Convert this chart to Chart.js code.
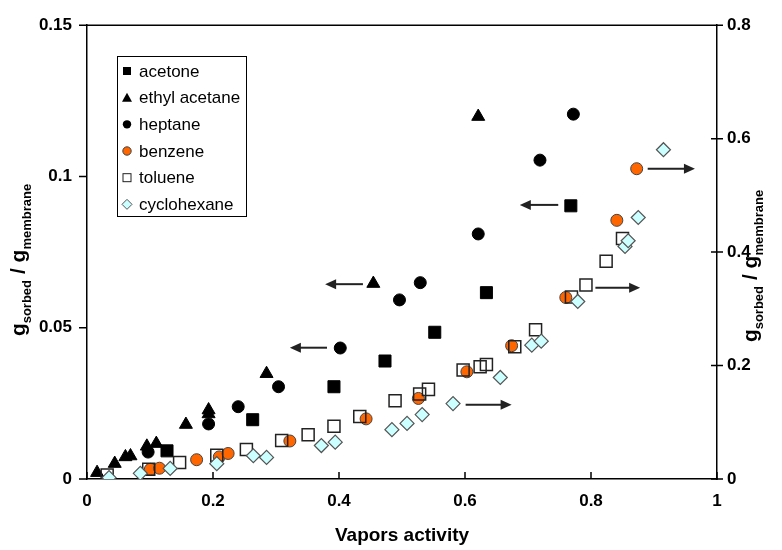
<!DOCTYPE html>
<html>
<head>
<meta charset="utf-8">
<script src="https://cdn.jsdelivr.net/npm/chart.js@4.4.0/dist/chart.umd.min.js"></script>
<style>
  html, body { margin: 0; padding: 0; background: #fff; }
  #wrap { width: 782px; height: 550px; }
</style>
</head>
<body>
<div id="wrap"><canvas id="sorption" width="782" height="550"></canvas></div>
<script>
// sorption data: x = vapors activity, y = g sorbed / g membrane
// acetone, ethyl acetate, heptane -> left axis; benzene, toluene, cyclohexane -> right axis
const acetoneX = [0.127, 0.263, 0.392, 0.473, 0.552, 0.634, 0.768];
const acetoneY = [0.0093, 0.0196, 0.0305, 0.039, 0.0485, 0.0616, 0.0903];

const ethylX = [0.016, 0.044, 0.061, 0.069, 0.095, 0.110, 0.157, 0.193, 0.193, 0.285, 0.4545, 0.621];
const ethylY = [0.0021, 0.0051, 0.0073, 0.0076, 0.0108, 0.0117, 0.018, 0.0215, 0.0228, 0.0348, 0.0646, 0.1198];

const heptaneX = [0.097, 0.193, 0.240, 0.304, 0.402, 0.496, 0.529, 0.621, 0.719, 0.772];
const heptaneY = [0.0089, 0.0182, 0.0239, 0.0305, 0.0433, 0.0592, 0.0649, 0.081, 0.1054, 0.1206];

const benzeneX = [0.1005, 0.115, 0.174, 0.210, 0.224, 0.322, 0.443, 0.526, 0.603, 0.674, 0.760, 0.841, 0.8725];
const benzeneY = [0.017, 0.019, 0.034, 0.039, 0.045, 0.067, 0.106, 0.142, 0.189, 0.235, 0.320, 0.456, 0.547];

const tolueneX = [0.032, 0.098, 0.147, 0.206, 0.253, 0.309, 0.351, 0.392, 0.433, 0.489, 0.528, 0.542,
                  0.597, 0.624, 0.634, 0.679, 0.712, 0.769, 0.792, 0.824, 0.850];
const tolueneY = [0.007, 0.017, 0.029, 0.042, 0.052, 0.068, 0.078, 0.093, 0.110, 0.138, 0.150, 0.158,
                  0.192, 0.198, 0.202, 0.233, 0.263, 0.321, 0.342, 0.384, 0.424];

const cycloX = [0.035, 0.0846, 0.132, 0.206, 0.264, 0.285, 0.372, 0.394, 0.484, 0.508, 0.532, 0.581,
                0.656, 0.706, 0.721, 0.779, 0.854, 0.859, 0.875, 0.915];
const cycloY = [0.0023, 0.010, 0.0187, 0.027, 0.041, 0.038, 0.059, 0.065, 0.087, 0.098, 0.1135, 0.133,
                0.179, 0.236, 0.243, 0.313, 0.410, 0.420, 0.461, 0.5805];

const seriesNames = ['acetone', 'ethyl acetane', 'heptane', 'benzene', 'toluene', 'cyclohexane'];

const xTicks = [0, 0.2, 0.4, 0.6, 0.8, 1];
const leftTicks = [0, 0.05, 0.1, 0.15];
const rightTicks = [0, 0.2, 0.4, 0.6, 0.8];

// arrows pointing at the axis each group belongs to
const arrowFrom = [0.381, 0.438, 0.748, 0.601, 0.807, 0.890];
const arrowTo   = [0.322, 0.378, 0.687, 0.674, 0.878, 0.965];
const arrowY    = [0.0434, 0.0644, 0.0906, 0.131, 0.337, 0.547];
const arrowAxis = ['y', 'y', 'y', 'y2', 'y2', 'y2'];

const FONT = '"Liberation Sans", Arial, sans-serif';

function pts(xs, ys) {
  return xs.map((x, i) => ({ x: x, y: ys[i] }));
}

function fixTicks(list) {
  return function(scale) { scale.ticks = list.map(v => ({ value: v })); };
}

const fmt = v => String(+Number(v).toFixed(2));

// axis box, tick marks, arrows, legend and the y titles with subscripts
const extras = {
  id: 'extras',
  beforeDatasetsDraw(chart) {
    const ctx = chart.ctx;
    const a = chart.chartArea;
    const sx = chart.scales.x, sl = chart.scales.y, sr = chart.scales.y2;
    ctx.save();
    ctx.strokeStyle = '#000';
    ctx.lineWidth = 1.5;
    ctx.beginPath();
    ctx.moveTo(a.left, a.top);
    ctx.lineTo(a.right, a.top);
    xTicks.forEach(v => {
      const px = sx.getPixelForValue(v);
      ctx.moveTo(px, a.bottom);
      ctx.lineTo(px, a.bottom - 7);
    });
    leftTicks.forEach(v => {
      const py = sl.getPixelForValue(v);
      ctx.moveTo(a.left - 8, py);
      ctx.lineTo(a.left, py);
    });
    rightTicks.forEach(v => {
      const py = sr.getPixelForValue(v);
      ctx.moveTo(a.right - 6, py);
      ctx.lineTo(a.right + 6, py);
    });
    ctx.stroke();
    ctx.restore();
  },
  afterDraw(chart) {
    const ctx = chart.ctx;
    const sx = chart.scales.x;
    ctx.save();

    // arrows
    ctx.strokeStyle = '#222';
    ctx.fillStyle = '#222';
    ctx.lineWidth = 2;
    arrowFrom.forEach((x0, i) => {
      const sy = chart.scales[arrowAxis[i]];
      const p0 = sx.getPixelForValue(x0);
      const p1 = sx.getPixelForValue(arrowTo[i]);
      const py = sy.getPixelForValue(arrowY[i]);
      const dir = p1 > p0 ? 1 : -1;
      ctx.beginPath();
      ctx.moveTo(p0, py);
      ctx.lineTo(p1 - dir * 8, py);
      ctx.stroke();
      ctx.beginPath();
      ctx.moveTo(p1, py);
      ctx.lineTo(p1 - dir * 11, py - 5);
      ctx.lineTo(p1 - dir * 11, py + 5);
      ctx.closePath();
      ctx.fill();
    });

    // legend
    const lx = 117.5, ly = 56.5, lw = 129, lh = 160;
    ctx.fillStyle = '#fff';
    ctx.fillRect(lx, ly, lw, lh);
    ctx.strokeStyle = '#000';
    ctx.lineWidth = 1;
    ctx.strokeRect(lx, ly, lw, lh);
    ctx.font = '17px ' + FONT;
    ctx.textBaseline = 'middle';
    ctx.textAlign = 'left';
    seriesNames.forEach((name, i) => {
      const cy = 71 + i * 26.67;
      const cx = 127;
      ctx.lineWidth = 1;
      ctx.beginPath();
      if (i === 0) {
        ctx.fillStyle = '#000';
        ctx.fillRect(cx - 4, cy - 4, 8, 8);
      } else if (i === 1) {
        ctx.fillStyle = '#000';
        ctx.moveTo(cx, cy - 5);
        ctx.lineTo(cx + 5, cy + 4);
        ctx.lineTo(cx - 5, cy + 4);
        ctx.closePath();
        ctx.fill();
      } else if (i === 2) {
        ctx.fillStyle = '#000';
        ctx.arc(cx, cy, 4.2, 0, Math.PI * 2);
        ctx.fill();
      } else if (i === 3) {
        ctx.fillStyle = '#FF6600';
        ctx.strokeStyle = '#444';
        ctx.arc(cx, cy, 4.2, 0, Math.PI * 2);
        ctx.fill();
        ctx.stroke();
      } else if (i === 4) {
        ctx.strokeStyle = '#222';
        ctx.strokeRect(cx - 4, cy - 4, 8, 8);
      } else {
        ctx.fillStyle = '#CCFFFF';
        ctx.strokeStyle = '#555';
        ctx.moveTo(cx, cy - 5);
        ctx.lineTo(cx + 5, cy);
        ctx.lineTo(cx, cy + 5);
        ctx.lineTo(cx - 5, cy);
        ctx.closePath();
        ctx.fill();
        ctx.stroke();
      }
      ctx.fillStyle = '#000';
      ctx.fillText(name, 139, cy + 1);
    });

    // y titles: g_sorbed / g_membrane
    drawTitle(ctx, 22, 260);
    drawTitle(ctx, 754, 266);
    ctx.restore();
  }
};

function drawTitle(ctx, cx, cy) {
  const big = 'bold 21px ' + FONT;
  const small = 'bold 13px ' + FONT;
  const parts = [
    { t: 'g', f: big, dy: 3 },
    { t: 'sorbed', f: small, dy: 9 },
    { t: ' / ', f: big, dy: 3 },
    { t: 'g', f: big, dy: 3 },
    { t: 'membrane', f: small, dy: 9 }
  ];
  let total = 0;
  parts.forEach(p => { ctx.font = p.f; p.w = ctx.measureText(p.t).width; total += p.w; });
  ctx.save();
  ctx.translate(cx, cy);
  ctx.rotate(-Math.PI / 2);
  ctx.fillStyle = '#000';
  ctx.textAlign = 'left';
  ctx.textBaseline = 'alphabetic';
  let x = -total / 2;
  parts.forEach(p => {
    ctx.font = p.f;
    ctx.fillText(p.t, x, p.dy);
    x += p.w;
  });
  ctx.restore();
}

const tickFont = { family: FONT, size: 17, weight: 'bold' };

new Chart(document.getElementById('sorption'), {
  type: 'scatter',
  data: {
    datasets: [
      {
        label: seriesNames[0], data: pts(acetoneX, acetoneY), yAxisID: 'y', order: 6,
        pointStyle: 'rect', pointRadius: 8.5, backgroundColor: '#000', borderColor: '#000', borderWidth: 1
      },
      {
        label: seriesNames[1], data: pts(ethylX, ethylY), yAxisID: 'y', order: 5,
        pointStyle: 'triangle', pointRadius: 7.5, backgroundColor: '#000', borderColor: '#000', borderWidth: 1
      },
      {
        label: seriesNames[2], data: pts(heptaneX, heptaneY), yAxisID: 'y', order: 4,
        pointStyle: 'circle', pointRadius: 6, backgroundColor: '#000', borderColor: '#000', borderWidth: 1
      },
      {
        label: seriesNames[3], data: pts(benzeneX, benzeneY), yAxisID: 'y2', order: 3,
        pointStyle: 'circle', pointRadius: 6, backgroundColor: '#FF6600', borderColor: '#444', borderWidth: 1
      },
      {
        label: seriesNames[4], data: pts(tolueneX, tolueneY), yAxisID: 'y2', order: 2,
        pointStyle: 'rect', pointRadius: 8.5, backgroundColor: 'rgba(255,255,255,0)', borderColor: '#222', borderWidth: 1.5
      },
      {
        label: seriesNames[5], data: pts(cycloX, cycloY), yAxisID: 'y2', order: 1,
        pointStyle: 'rectRot', pointRadius: 7, backgroundColor: '#CCFFFF', borderColor: '#555', borderWidth: 1.2
      }
    ]
  },
  options: {
    responsive: false,
    animation: false,
    devicePixelRatio: 1,
    events: [],
    layout: { padding: { top: 22, left: 0, right: 0, bottom: 0 } },
    plugins: {
      legend: { display: false },
      tooltip: { enabled: false }
    },
    scales: {
      x: {
        type: 'linear',
        position: 'bottom',
        min: 0,
        max: 1,
        afterBuildTicks: fixTicks(xTicks),
        afterFit: s => { s.height = 71; },
        grid: { display: true, drawOnChartArea: false, drawTicks: false },
        border: { display: true, color: '#000', width: 1.5 },
        ticks: { font: tickFont, color: '#000', padding: 12, maxRotation: 0, callback: fmt },
        title: {
          display: true,
          text: 'Vapors activity',
          color: '#000',
          font: { family: FONT, size: 19, weight: 'bold' },
          padding: { top: 0, bottom: 3 }
        }
      },
      y: {
        type: 'linear',
        position: 'left',
        min: 0,
        max: 0.15,
        afterBuildTicks: fixTicks(leftTicks),
        afterFit: s => { s.width = 87; },
        grid: { display: true, drawOnChartArea: false, drawTicks: false },
        border: { display: true, color: '#000', width: 1.5 },
        ticks: { font: tickFont, color: '#000', padding: 15, callback: fmt }
      },
      y2: {
        type: 'linear',
        position: 'right',
        min: 0,
        max: 0.8,
        afterBuildTicks: fixTicks(rightTicks),
        afterFit: s => { s.width = 65; },
        grid: { display: true, drawOnChartArea: false, drawTicks: false },
        border: { display: true, color: '#000', width: 1.5 },
        ticks: { font: tickFont, color: '#000', padding: 10, callback: fmt }
      }
    }
  },
  plugins: [extras]
});
</script>
</body>
</html>
